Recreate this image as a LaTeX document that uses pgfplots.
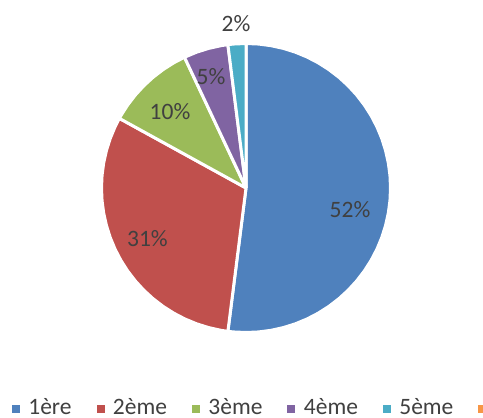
\documentclass[border=0pt]{standalone}
\usepackage{pgfplots}
\pgfplotsset{compat=1.18}
\usepackage{fontspec}
\setmainfont{Carlito}
\definecolor{cBlue}{HTML}{4F81BD}
\definecolor{cRed}{HTML}{C0504D}
\definecolor{cGreen}{HTML}{9BBB59}
\definecolor{cPurple}{HTML}{8064A2}
\definecolor{cTeal}{HTML}{4BACC6}
\definecolor{cOrange}{HTML}{F79646}
\definecolor{txt}{HTML}{404040}
\begin{document}
\begin{tikzpicture}
\path[use as bounding box] (0,0) rectangle (483bp,418bp);
\clip (0,0) rectangle (483bp,418bp);
\begin{axis}[
  at={(0,0)}, anchor=south west,
  scale only axis, width=483bp, height=418bp,
  xmin=-1.7024, xmax=1.6401, ymin=-1.5917, ymax=1.3010,
  hide axis, clip=false,
  legend columns=-1,
  legend image code/.code={\fill[#1] (0bp,-5.5bp) rectangle (7bp,1.5bp);},
  legend style={draw=none, fill=none, inner sep=0pt, outer sep=0pt,
    at={(0.0248,0.0055)}, anchor=south west,
    font=\fontsize{23.5bp}{28bp}\selectfont, text=txt,
    nodes={inner sep=0pt},
    /tikz/every odd column/.append style={column sep=9bp},
    /tikz/every even column/.append style={column sep=25bp}},
]
\addplot[forget plot, fill=cBlue, draw=white, line width=3bp, line join=round, data cs=polar] coordinates {
(0,0) (90,1) (85,1) (80,1) (75,1) (70,1) (65,1) (60,1) (55,1) (50,1) (45,1) (40,1) (35,1) (30,1) (25,1) (20,1) (15,1) (10,1) (5,1) (0,1)
(-5,1) (-10,1) (-15,1) (-20,1) (-25,1) (-30,1) (-35,1) (-40,1) (-45,1) (-50,1) (-55,1) (-60,1) (-65,1) (-70,1) (-75,1) (-80,1) (-85,1) (-90,1) (-95,1) (-97.2,1) (0,0)};
\addplot[forget plot, fill=cRed, draw=white, line width=3bp, line join=round, data cs=polar] coordinates {
(0,0) (-97.2,1) (-100,1) (-105,1) (-110,1) (-115,1) (-120,1) (-125,1) (-130,1) (-135,1) (-140,1) (-145,1) (-150,1) (-155,1) (-160,1) (-165,1) (-170,1) (-175,1) (-180,1) (-185,1) (-190,1) (-195,1) (-200,1) (-205,1) (-208.8,1) (0,0)};
\addplot[forget plot, fill=cGreen, draw=white, line width=3bp, line join=round, data cs=polar] coordinates {
(0,0) (-208.8,1) (-210,1) (-215,1) (-220,1) (-225,1) (-230,1) (-235,1) (-240,1) (-244.8,1) (0,0)};
\addplot[forget plot, fill=cPurple, draw=white, line width=3bp, line join=round, data cs=polar] coordinates {
(0,0) (-244.8,1) (-250,1) (-255,1) (-260,1) (-262.8,1) (0,0)};
\addplot[forget plot, fill=cTeal, draw=white, line width=3bp, line join=round, data cs=polar] coordinates {
(0,0) (-262.8,1) (-265,1) (-270,1) (0,0)};
\addplot[forget plot, draw=none, mark=none, nodes near coords, point meta=explicit symbolic,
  nodes near coords align={anchor=base},
  every node near coord/.append style={inner sep=0pt, font=\fontsize{23.5bp}{28bp}\selectfont, text=txt}]
  coordinates {(0.720,-0.201) [52\%] (-0.682,-0.408) [31\%] (-0.526,0.471) [10\%] (-0.242,0.713) [5\%] (-0.069,1.080) [2\%]};
\addlegendimage{cBlue}
\addlegendimage{cRed}
\addlegendimage{cGreen}
\addlegendimage{cPurple}
\addlegendimage{cTeal}
\addlegendimage{cOrange}
\legend{1ère,2ème,3ème,4ème,5ème,6ème}
\end{axis}
\end{tikzpicture}
\end{document}
